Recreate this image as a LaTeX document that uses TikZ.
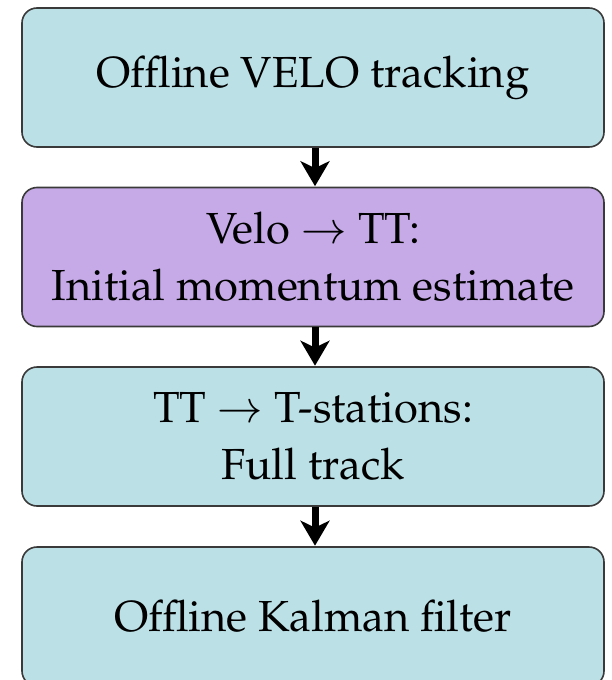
\documentclass[tikz,border=0pt]{standalone}
\usepackage[T1]{fontenc}
\usepackage{mathpazo}
\usetikzlibrary{arrows.meta}
\definecolor{boxblue}{HTML}{BBE0E6}
\definecolor{boxpurple}{HTML}{C6AAE8}
\definecolor{boxline}{HTML}{3A3A3A}
\tikzset{
  stagebox/.style={draw=boxline, line width=1.6pt, rounded corners=15pt, minimum width=582pt, minimum height=139pt, align=center, font=\fontsize{43.5}{57}\selectfont, inner sep=0pt},
  flowarrow/.style={line width=7pt, -{Stealth[length=25pt, width=29pt, inset=7pt]}, shorten >=0.5pt}
}
\begin{document}
\begin{tikzpicture}[x=1pt,y=-1pt]
\useasboundingbox (0,0) rectangle (611,680);
\node[stagebox, fill=boxblue] (a) at (313,77.5) {Offline VELO tracking};
\node[stagebox, fill=boxpurple] (b) at (313,257) {Velo $\rightarrow$ TT:\\Initial momentum estimate};
\node[stagebox, fill=boxblue] (c) at (313,436.5) {TT $\rightarrow$ T-stations:\\Full track};
\node[stagebox, fill=boxblue] (d) at (313,616.5) {Offline Kalman filter};
\draw[flowarrow] (a.south -| 315,0) -- (b.north -| 315,0);
\draw[flowarrow] (b.south -| 315,0) -- (c.north -| 315,0);
\draw[flowarrow] (c.south -| 315,0) -- (d.north -| 315,0);
\end{tikzpicture}
\end{document}
